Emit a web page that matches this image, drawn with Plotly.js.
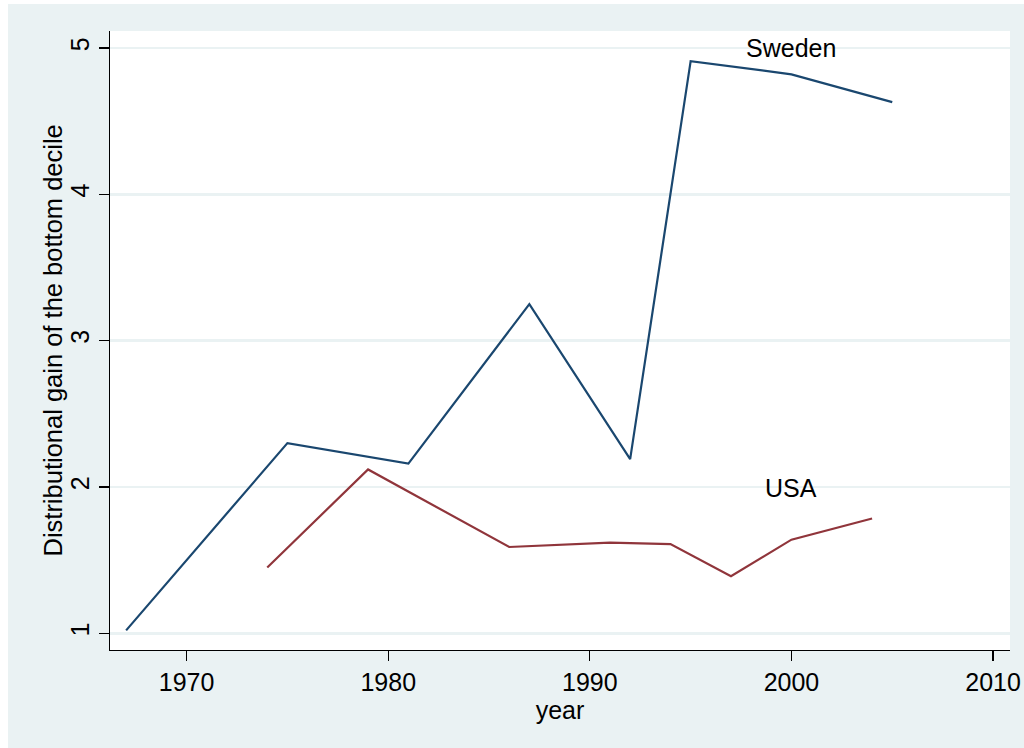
<!DOCTYPE html>
<html>
<head>
<meta charset="utf-8">
<script src="https://cdn.plot.ly/plotly-3.0.1.min.js"></script>
<style>
html,body{margin:0;padding:0;background:#ffffff;}
#chart{position:absolute;left:8px;top:4px;width:1016px;height:744px;}
</style>
</head>
<body>
<div id="chart"></div>
<script>
const swedenYears = [1967, 1975, 1981, 1987, 1992, 1995, 2000, 2005];
const swedenValues = [1.02, 2.30, 2.16, 3.25, 2.19, 4.91, 4.82, 4.63];
const usaYears = [1974, 1979, 1986, 1991, 1994, 1997, 2000, 2004];
const usaValues = [1.45, 2.12, 1.59, 1.62, 1.61, 1.39, 1.64, 1.785];
const seriesLabels = ["Sweden", "USA"];
const labelPos = [[2000, 5.0], [2000, 1.99]];
const xTicks = [1970, 1980, 1990, 2000, 2010];
const yTicks = [1, 2, 3, 4, 5];
const xTitle = "year";
const yTitle = "Distributional gain of the bottom decile";

const fontFam = "Liberation Sans, Arial, Helvetica, sans-serif";
const traces = [
  {x: swedenYears, y: swedenValues, type: "scatter", mode: "lines", name: seriesLabels[0],
   line: {color: "#1a476f", width: 2.2}},
  {x: usaYears, y: usaValues, type: "scatter", mode: "lines", name: seriesLabels[1],
   line: {color: "#90353b", width: 2.2}}
];
const annotations = seriesLabels.map((t, i) => ({
  x: labelPos[i][0], y: labelPos[i][1], xref: "x", yref: "y", text: t,
  showarrow: false, xanchor: "center", yanchor: "middle",
  font: {family: fontFam, size: 25, color: "#000000"}
}));
annotations.push({
  x: -0.0644, y: 0.5, xref: "paper", yref: "paper", text: yTitle, textangle: -90,
  showarrow: false, xanchor: "center", yanchor: "middle",
  font: {family: fontFam, size: 25.5, color: "#000000"}
});
const layout = {
  width: 1016, height: 744,
  paper_bgcolor: "#eaf2f3", plot_bgcolor: "#ffffff",
  margin: {l: 102, r: 14, t: 27, b: 98},
  showlegend: false,
  font: {family: fontFam, size: 25, color: "#000000"},
  xaxis: {
    range: [1966.2, 2010.84], tickvals: xTicks, ticktext: xTicks.map(String),
    showgrid: false, zeroline: false, showline: true, linecolor: "#000000", linewidth: 1.3,
    ticks: "outside", ticklen: 10, tickwidth: 1.3, tickcolor: "#000000",
    tickfont: {family: fontFam, size: 25, color: "#000000"},
    title: {text: xTitle, font: {family: fontFam, size: 25, color: "#000000"}, standoff: 0}
  },
  yaxis: {
    range: [0.886, 5.116], tickvals: yTicks, ticktext: yTicks.map(String),
    showgrid: true, gridcolor: "#eaf2f3", gridwidth: 2.5,
    zeroline: false, showline: true, linecolor: "#000000", linewidth: 1.3,
    ticks: "outside", ticklen: 10, tickwidth: 1.3, tickcolor: "#000000", tickangle: -90,
    tickfont: {family: fontFam, size: 25, color: "#000000"}
  },
  annotations: annotations
};
Plotly.newPlot("chart", traces, layout, {displayModeBar: false, staticPlot: true});
</script>
</body>
</html>
